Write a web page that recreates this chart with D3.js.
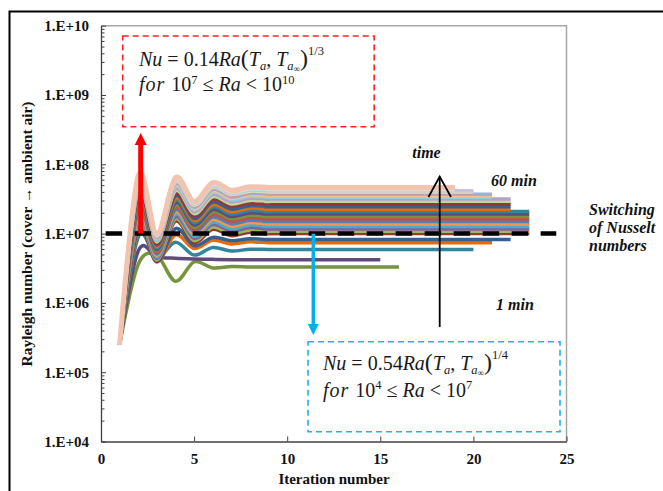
<!DOCTYPE html>
<html>
<head>
<meta charset="utf-8">
<script src="https://cdn.jsdelivr.net/npm/d3@7"></script>
<style>
  html, body { margin: 0; padding: 0; background: #fff; }
  svg { display: block; }
  text { font-family: "Liberation Serif", "Times New Roman", serif; }
</style>
</head>
<body>
<svg id="chart" width="663" height="491"></svg>
<script>
// Ra (in millions) for iterations 1..8, bottom (1 min) to top (60 min)
const raMillion = [
  [0.25, 3.6, 4.8, 2.05, 3.9, 3.2, 3.35, 3.3],
  [0.25, 5.6, 4.6, 4.4, 4.3, 4.25, 4.2, 4.2],
  [0.25, 8.9, 4.5, 7.5, 4.9, 6.3, 5.6, 5.95],
  [0.25, 11.0, 4.0, 9.6, 6.1, 8.0, 7.1, 7.6],
  [0.25, 12.0, 3.9, 11.8, 6.7, 8.8, 7.9, 8.4],
  [0.25, 13.2, 3.98, 15.1, 7.41, 11.5, 9.33, 10.5],
  [0.25, 14.4, 4.17, 16.3, 7.94, 12.4, 10.1, 11.3],
  [0.25, 15.7, 4.37, 17.5, 8.53, 13.5, 10.9, 12.2],
  [0.25, 17.2, 4.59, 19.0, 9.18, 14.6, 11.8, 13.3],
  [0.25, 18.9, 4.83, 20.5, 9.89, 15.9, 12.8, 14.4],
  [0.25, 20.7, 5.08, 22.1, 10.7, 17.3, 13.9, 15.6],
  [0.25, 22.8, 5.33, 23.9, 11.5, 18.8, 15.1, 16.9],
  [0.25, 25.0, 5.61, 25.9, 12.4, 20.5, 16.4, 18.4],
  [0.25, 27.4, 5.89, 27.9, 13.3, 22.2, 17.7, 19.9],
  [0.25, 29.9, 6.18, 30.1, 14.3, 24.2, 19.2, 21.5],
  [0.25, 32.7, 6.47, 32.4, 15.3, 26.1, 20.7, 23.3],
  [0.25, 36.0, 6.82, 35.2, 16.5, 28.5, 22.5, 25.3],
  [0.25, 39.7, 7.19, 38.2, 17.9, 31.2, 24.7, 27.7],
  [0.25, 43.7, 7.57, 41.4, 19.3, 34.0, 26.8, 30.1],
  [0.25, 47.6, 7.93, 44.5, 20.7, 36.8, 28.9, 32.4],
  [0.25, 51.1, 8.22, 47.2, 21.9, 39.2, 30.7, 34.4],
  [0.25, 54.2, 8.49, 49.5, 22.9, 41.3, 32.4, 36.3],
  [0.25, 57.0, 8.73, 51.8, 23.9, 43.3, 33.8, 38.0],
  [0.25, 59.9, 8.95, 54.0, 24.8, 45.3, 35.3, 39.6],
  [0.25, 61.5, 9.16, 55.7, 25.6, 46.9, 36.6, 41.0],
  [0.25, 63.0, 9.33, 57.5, 26.4, 48.5, 37.8, 42.4],
  [0.25, 64.5, 9.51, 59.2, 27.2, 50.1, 38.9, 43.7],
  [0.25, 66.0, 9.68, 60.8, 27.9, 51.6, 40.1, 45.0],
  [0.25, 67.5, 9.84, 62.5, 28.6, 53.1, 41.2, 46.2],
  [0.25, 69.0, 10.0, 64.0, 29.2, 54.5, 42.3, 47.4]
];
// settled Ra (millions), held from iteration 9 to the last iteration
const raSettled = [3.3, 4.2, 5.9, 7.4, 8.2,
  10.0, 10.8, 11.7, 12.7, 13.8, 15.0, 16.3, 17.7, 19.2, 20.8,
  22.5, 24.5, 26.8, 29.2, 31.5, 33.5, 35.3, 37.0, 38.6, 40.0,
  41.4, 42.7, 44.0, 45.2, 46.3];
const iterEnd = [16, 15, 20, 21, 22,
  23, 23, 23, 23, 23, 23, 23, 23, 23, 23,
  22, 22, 22, 22, 22, 21, 21, 21, 20, 20,
  20, 19, 19, 19, 19];
const lineColors = [
  "#77933C", "#604A7B", "#31859C", "#E46C0A", "#376092", "#953735",
  "#9BBB59", "#8064A2", "#4BACC6", "#F79646", "#4F81BD", "#C0504D",
  "#77933C", "#604A7B", "#31859C", "#E46C0A", "#376092", "#953735",
  "#C3D69B", "#B3A2C7", "#93CDDD", "#FAC090", "#95B3D7", "#D99694",
  "#D7E4BD", "#CCC1DA", "#B7DEE8", "#FCD5B5", "#B9CDE5", "#F2C4B0"
];
const xTicks = [0, 5, 10, 15, 20, 25];
const yTicks = [1e4, 1e5, 1e6, 1e7, 1e8, 1e9, 1e10];
const yTickLabels = ["1.E+04", "1.E+05", "1.E+06", "1.E+07", "1.E+08", "1.E+09", "1.E+10"];
const switchRa = 1e7;
const switchSpan = [0.25, 24.45];

const svg = d3.select("#chart");
const L = 101, R = 566.5, T = 25.7, B = 441.5;

const x = d3.scaleLinear().domain([0, 25]).range([L, R]);
const y = d3.scaleLog().domain([1e4, 1e10]).range([B, T]);

svg.append("rect").attr("width", 663).attr("height", 491).attr("fill", "#fff");

// outer frame
svg.append("rect")
  .attr("x", 9.5).attr("y", 11.5)
  .attr("width", 700).attr("height", 600)
  .attr("fill", "none").attr("stroke", "#000").attr("stroke-width", 2);

// plot border top/right
svg.append("path")
  .attr("d", `M${L},${T}H${R}V${B}`)
  .attr("fill", "none").attr("stroke", "#a6a6a6").attr("stroke-width", 1.5);

// minor ticks
const minor = y.ticks().filter(v => !yTicks.includes(v));
svg.append("g")
  .attr("transform", `translate(${L},0)`)
  .call(d3.axisLeft(y).tickValues(minor).tickSize(-3.5).tickSizeOuter(0).tickFormat(""))
  .call(g => g.select(".domain").remove())
  .call(g => g.selectAll("line").attr("stroke", "#404040"));

const yAxis = svg.append("g")
  .attr("transform", `translate(${L},0)`)
  .call(d3.axisLeft(y).tickValues(yTicks).tickSize(-5).tickSizeOuter(0).tickPadding(12)
    .tickFormat((d, i) => yTickLabels[i]));

const xAxis = svg.append("g")
  .attr("transform", `translate(0,${B})`)
  .call(d3.axisBottom(x).tickValues(xTicks).tickSize(-5).tickSizeOuter(0).tickPadding(12));

[yAxis, xAxis].forEach(g => {
  g.select(".domain").attr("stroke", "#404040").attr("stroke-width", 1.3);
  g.selectAll("line").attr("stroke", "#404040");
  g.selectAll("text")
    .attr("font-family", "Liberation Serif, serif")
    .attr("font-size", 15).attr("font-weight", "bold").attr("fill", "#111");
});

svg.append("text")
  .attr("transform", "translate(32,234) rotate(-90)")
  .attr("text-anchor", "middle")
  .attr("font-size", 15.5).attr("font-weight", "bold").attr("fill", "#111")
  .text("Rayleigh number (cover \u2192 ambient air)");

svg.append("text")
  .attr("x", 334).attr("y", 484)
  .attr("text-anchor", "middle")
  .attr("font-size", 15).attr("font-weight", "bold").attr("fill", "#111")
  .text("Iteration number");

// curves
const line = d3.line()
  .x(d => x(d[0]))
  .y(d => y(d[1]))
  .curve(d3.curveCardinal.tension(0));

const series = raMillion.map((vals, i) => {
  const pts = vals.map((v, j) => [j + 1, v * 1e6]);
  const f = raSettled[i] * 1e6;
  pts.push([9, f], [10, f], [iterEnd[i], f]);
  return pts;
});

svg.append("g")
  .selectAll("path")
  .data(series)
  .join("path")
  .attr("d", line)
  .attr("fill", "none")
  .attr("stroke", (d, i) => lineColors[i])
  .attr("stroke-width", (d, i) => i === series.length - 1 ? 5 : 3.5)
  .attr("stroke-linejoin", "round");

// switching line
svg.append("line")
  .attr("x1", x(switchSpan[0])).attr("x2", x(switchSpan[1]))
  .attr("y1", y(switchRa)).attr("y2", y(switchRa))
  .attr("stroke", "#000").attr("stroke-width", 4.5)
  .attr("stroke-dasharray", "16.5,12.5");

// arrows
function arrow(x0, y0, y1, color, w, hw, hh) {
  const dir = y1 < y0 ? 1 : -1;
  svg.append("line")
    .attr("x1", x0).attr("x2", x0)
    .attr("y1", y0).attr("y2", y1 + dir * hh * 0.8)
    .attr("stroke", color).attr("stroke-width", w);
  svg.append("path")
    .attr("d", `M${x0},${y1}L${x0 - hw},${y1 + dir * hh}L${x0 + hw},${y1 + dir * hh}Z`)
    .attr("fill", color);
}
arrow(140.7, y(switchRa), 133, "#ff0000", 5, 6, 12);
arrow(313.3, y(switchRa), 335, "#00b0f0", 3.5, 5.5, 11);

svg.append("line")
  .attr("x1", 439.7).attr("x2", 439.7).attr("y1", 327).attr("y2", 176.5)
  .attr("stroke", "#000").attr("stroke-width", 1.8);
svg.append("path")
  .attr("d", "M428.5,197L439.7,176.5L451,197")
  .attr("fill", "none").attr("stroke", "#000").attr("stroke-width", 1.8);

// boxes
svg.append("rect")
  .attr("x", 122.7).attr("y", 36).attr("width", 251.5).attr("height", 90.7)
  .attr("fill", "none").attr("stroke", "#ff2020").attr("stroke-width", 1.6)
  .attr("stroke-dasharray", "6,4");
svg.append("rect")
  .attr("x", 308).attr("y", 341.7).attr("width", 252).attr("height", 90)
  .attr("fill", "none").attr("stroke", "#1ab4f0").attr("stroke-width", 1.6)
  .attr("stroke-dasharray", "6,4");

function equation(x0, y0, parts) {
  const t = svg.append("text")
    .attr("x", x0).attr("y", y0)
    .attr("font-size", 20).attr("fill", "#1a1a1a");
  parts.forEach(p => {
    t.append("tspan")
      .text(p[0])
      .attr("font-style", p[1] ? "italic" : "normal")
      .attr("font-size", p[2] || null)
      .attr("dy", p[3] || 0)
      .attr("letter-spacing", p[4] || null);
  });
}

function nuLine(coef, pow) {
  return [
    ["Nu", 1], [" = ", 0], [coef, 0], ["Ra", 1], ["(", 0, 24],
    ["T", 1], ["a", 1, 12.5, 4], [", ", 0, null, -4], ["T", 1], ["a", 1, 12.5, 4],
    ["\u221e", 0, 9, 2], [")", 0, 24, -6], [pow, 0, 12.5, -11]
  ];
}

equation(139, 66, nuLine("0.14", "1/3"));
equation(139, 91, [
  ["for ", 1, null, 0, 1], ["10", 0], ["7", 0, 12.5, -7.5], [" \u2264 ", 0, null, 7.5],
  ["Ra", 1], [" < ", 0], ["10", 0], ["10", 0, 12.5, -7.5]
]);
equation(323, 369.5, nuLine("0.54", "1/4"));
equation(323, 396.5, [
  ["for ", 1, null, 0, 1], ["10", 0], ["4", 0, 12.5, -7.5], [" \u2264 ", 0, null, 7.5],
  ["Ra", 1], [" < ", 0], ["10", 0], ["7", 0, 12.5, -7.5]
]);

// annotations
function note(x0, y0, s, anchor) {
  svg.append("text")
    .attr("x", x0).attr("y", y0)
    .attr("text-anchor", anchor || "start")
    .attr("font-size", 16).attr("font-weight", "bold").attr("font-style", "italic")
    .attr("fill", "#111")
    .text(s);
}
note(426.5, 157.5, "time", "middle");
note(491, 186, "60 min");
note(496, 310, "1 min");
note(589, 215, "Switching");
note(589, 233, "of Nusselt");
note(589, 251, "numbers");
</script>
</body>
</html>
